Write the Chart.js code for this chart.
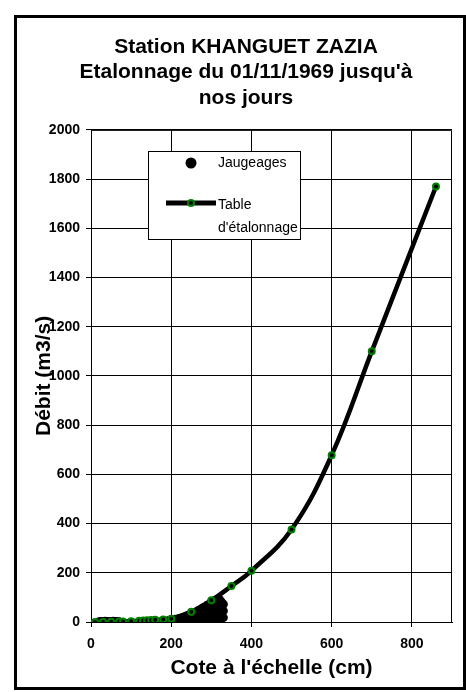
<!DOCTYPE html>
<html>
<head>
<meta charset="utf-8">
<script src="https://cdn.jsdelivr.net/npm/chart.js@4.4.0/dist/chart.umd.min.js"></script>
<style>
  html, body { margin: 0; padding: 0; background: #fff; }
  #wrap { position: relative; width: 466px; height: 692px; }
</style>
</head>
<body>
<div id="wrap"><canvas id="graphique" width="466" height="692"></canvas></div>
<script>
// Table d'étalonnage (cote en cm, débit en m3/s)
const coteTable = [10, 30, 50, 70, 80, 100, 120, 130, 140, 150, 160, 180, 200, 250, 300, 350, 400, 500, 600, 700, 860];
const debitTable = [0, 0.5, 1, 2, 2.5, 3.5, 5, 6, 7, 8, 9, 10, 13, 42, 88, 146, 208, 376, 678, 1100, 1770];

// Jaugeages
const coteJaug = [20, 25, 30, 35, 40, 45, 50, 55, 60, 65, 70,
    190, 195, 200, 205, 210, 220, 225, 230, 235, 240, 245, 250, 250, 255, 260, 260,
    265, 270, 270, 270, 275, 280, 280, 280, 285, 290, 290, 290, 295, 295,
    300, 300, 300, 300, 305, 305, 310, 310, 310, 310, 315, 315, 315,
    320, 320, 320, 320, 325, 325, 325, 330, 330, 330];
const debitJaug = [1, 2, 1, 3, 2, 1, 2, 3, 1, 2, 1,
    4, 6, 9, 6, 11, 14, 8, 18, 12, 23, 10, 32, 15, 20, 38, 12,
    30, 48, 22, 8, 40, 58, 30, 10, 50, 68, 40, 15, 58, 8,
    82, 50, 25, 8, 70, 40, 88, 60, 30, 10, 80, 50, 20,
    92, 70, 40, 12, 82, 55, 25, 72, 45, 18];

const ticksX = [0, 200, 400, 600, 800];
const police = "'Liberation Sans', Arial, sans-serif";

const ctx = document.getElementById('graphique').getContext('2d');

// cadre extérieur + bord du graphique + légende dessinée dans la zone de tracé
const decor = {
    id: 'decor',
    beforeDraw(chart) {
        const c = chart.ctx;
        c.save();
        c.fillStyle = '#fff';
        c.fillRect(0, 0, chart.width, chart.height);
        c.strokeStyle = '#000';
        c.lineWidth = 3;
        c.strokeRect(15.5, 16.5, 449, 672);
        c.restore();
    },
    afterDatasetsDraw(chart) {
        const c = chart.ctx;
        const a = chart.chartArea;
        c.save();
        c.strokeStyle = '#000';
        c.lineWidth = 1;
        c.beginPath();
        c.moveTo(a.left, a.top + 0.5);
        c.lineTo(a.right - 0.5, a.top + 0.5);
        c.lineTo(a.right - 0.5, a.bottom);
        c.stroke();

        // légende
        c.fillStyle = '#fff';
        c.fillRect(148, 151, 153, 89);
        c.strokeRect(148.5, 151.5, 152, 88);
        c.fillStyle = '#000';
        c.beginPath();
        c.arc(191, 163, 5.5, 0, Math.PI * 2);
        c.fill();
        c.lineWidth = 5;
        c.beginPath();
        c.moveTo(166, 203);
        c.lineTo(216, 203);
        c.stroke();
        c.lineWidth = 2;
        c.strokeStyle = '#008000';
        c.beginPath();
        c.arc(191, 203, 3, 0, Math.PI * 2);
        c.fill();
        c.stroke();
        c.fillStyle = '#000';
        c.font = '14px ' + police;
        c.textBaseline = 'middle';
        c.fillText('Jaugeages', 218, 163);
        c.fillText('Table', 218, 205);
        c.fillText("d'étalonnage", 218, 228);
        c.restore();
    }
};

new Chart(ctx, {
    type: 'line',
    data: {
        datasets: [{
            label: "Table d'étalonnage",
            data: coteTable.map((x, i) => ({ x: x, y: debitTable[i] })),
            borderColor: '#000',
            borderWidth: 4.5,
            tension: 0.4,
            pointRadius: 3,
            pointBorderWidth: 2,
            pointBorderColor: '#008000',
            pointBackgroundColor: '#000',
            order: 1
        }, {
            label: 'Jaugeages',
            data: coteJaug.map((x, i) => ({ x: x, y: debitJaug[i] })),
            showLine: false,
            pointRadius: 4.5,
            pointBackgroundColor: '#000',
            pointBorderColor: '#000',
            pointBorderWidth: 0,
            order: 2
        }]
    },
    options: {
        responsive: false,
        animation: false,
        events: [],
        layout: { padding: { left: 40, right: 14, top: 0, bottom: 0 } },
        plugins: {
            legend: { display: false },
            tooltip: { enabled: false },
            title: {
                display: true,
                text: ['Station KHANGUET ZAZIA', "Etalonnage du 01/11/1969 jusqu'à", 'nos jours'],
                color: '#000',
                font: { family: police, size: 21, weight: 'bold', lineHeight: 1.22 },
                padding: { top: 34, bottom: 19 }
            }
        },
        scales: {
            x: {
                type: 'linear',
                min: 0,
                max: 900,
                afterFit: s => { s.height = 70; },
                afterBuildTicks: s => { s.ticks = ticksX.map(v => ({ value: v })); },
                grid: { color: '#000', lineWidth: 1, tickLength: 5 },
                border: { color: '#000', width: 1 },
                ticks: {
                    color: '#000', padding: 9,
                    font: { family: police, size: 14, weight: 'bold' },
                    callback: v => String(v)
                },
                title: {
                    display: true,
                    text: "Cote à l'échelle (cm)",
                    color: '#000',
                    font: { family: police, size: 21, weight: 'bold' },
                    padding: { top: 0, bottom: 11 }
                }
            },
            y: {
                min: 0,
                max: 2000,
                afterFit: s => { s.width = 51; },
                grid: { color: '#000', lineWidth: 1, tickLength: 5 },
                border: { color: '#000', width: 1 },
                ticks: {
                    color: '#000', stepSize: 200, padding: 6,
                    font: { family: police, size: 14, weight: 'bold' },
                    callback: v => String(v)
                },
                title: {
                    display: true,
                    text: 'Débit (m3/s)',
                    color: '#000',
                    font: { family: police, size: 21, weight: 'bold' },
                    padding: { top: -8, bottom: 0 }
                }
            }
        }
    },
    plugins: [decor]
});
</script>
</body>
</html>
